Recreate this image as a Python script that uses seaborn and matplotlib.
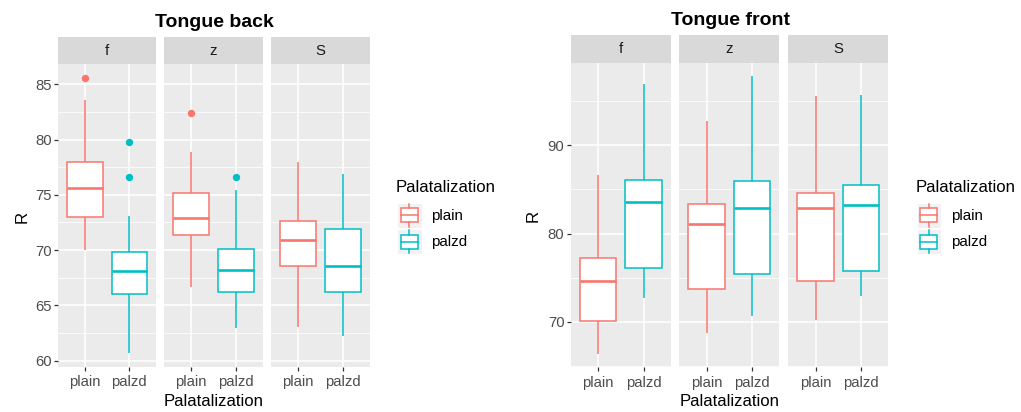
import numpy as np
import pandas as pd
import matplotlib
matplotlib.use("Agg")
import matplotlib.pyplot as plt
from matplotlib.ticker import FixedLocator
from matplotlib.patches import Rectangle
from matplotlib.lines import Line2D
from matplotlib.legend_handler import HandlerBase
import seaborn as sns

# ---------------- data ----------------
facets = ["f", "z", "S"]
levels = ["plain", "palzd"]
colors = ["#F8766D", "#00BFC4"]

# order within each list: f-plain, f-palzd, z-plain, z-palzd, S-plain, S-palzd
back_low = [70.0, 60.7, 66.7, 62.95, 63.05, 62.2]
back_q1 = [72.95, 66.0, 71.4, 66.2, 68.6, 66.2]
back_med = [75.6, 68.1, 72.9, 68.2, 70.9, 68.6]
back_q3 = [77.95, 69.85, 75.2, 70.1, 72.6, 71.9]
back_high = [83.55, 73.1, 78.9, 75.4, 78.0, 76.9]
back_out = [[85.55], [76.65, 79.8], [82.4], [76.6], [], []]

front_low = [66.35, 72.7, 68.7, 70.6, 70.2, 72.9]
front_q1 = [70.05, 76.1, 73.7, 75.4, 74.6, 75.8]
front_med = [74.6, 83.6, 81.05, 82.9, 82.9, 83.25]
front_q3 = [77.2, 86.1, 83.3, 85.95, 84.55, 85.55]
front_high = [86.6, 96.9, 92.8, 97.85, 95.65, 95.75]
front_out = [[], [], [], [], [], []]

back_major = [60, 65, 70, 75, 80, 85]
back_minor = [62.5, 67.5, 72.5, 77.5, 82.5]
front_major = [70, 80, 90]
front_minor = [65, 75, 85, 95]


def expand(lo, q1, med, q3, hi, outs):
    """Observations made only of the values read off the chart, repeated so
    that the box statistics seaborn computes equal the drawn ones."""
    return [lo] + [q1] * 10 + [med] * 10 + [q3] * 10 + [hi] + list(outs)


def make_frame(low, q1, med, q3, high, outs):
    rows = []
    for i, fac in enumerate(facets):
        for j, lev in enumerate(levels):
            k = 2 * i + j
            for v in expand(low[k], q1[k], med[k], q3[k], high[k], outs[k]):
                rows.append((fac, lev, v))
    return pd.DataFrame(rows, columns=["facet", "Palatalization", "R"])


back_df = make_frame(back_low, back_q1, back_med, back_q3, back_high, back_out)
front_df = make_frame(front_low, front_q1, front_med, front_q3, front_high, front_out)

# ---------------- style ----------------
plt.rcParams["font.family"] = ["Liberation Sans", "DejaVu Sans"]
W, H = 1021, 412
fig = plt.figure(figsize=(W / 100, H / 100), dpi=100)

TICK_FS = 10.7
LAB_FS = 12.1
PANEL_BG = "#EBEBEB"
STRIP_BG = "#D9D9D9"


def px_axes(x0, y0, x1, y1):
    return fig.add_axes([x0 / W, 1 - y1 / H, (x1 - x0) / W, (y1 - y0) / H])


def ftext(x, y, s, **kw):
    fig.text(x / W, 1 - y / H, s, **kw)


class BoxKeyHandler(HandlerBase):
    def create_artists(self, legend, orig_handle, xdescent, ydescent,
                       width, height, fontsize, trans):
        col = orig_handle.get_edgecolor()
        x0, y0 = -xdescent, -ydescent
        bg = Rectangle((x0, y0), width, height, facecolor="#F2F2F2",
                       edgecolor="white", lw=0.8, transform=trans)
        bx0, bw = x0 + 0.16 * width, 0.68 * width
        by0, bh = y0 + 0.22 * height, 0.56 * height
        box = Rectangle((bx0, by0), bw, bh, facecolor="white", edgecolor=col,
                        lw=1.1, transform=trans)
        cx = x0 + width / 2
        med = Line2D([bx0, bx0 + bw], [y0 + height / 2] * 2, color=col, lw=1.1,
                     transform=trans)
        w1 = Line2D([cx, cx], [y0 + 0.04 * height, by0], color=col, lw=1.1,
                    transform=trans)
        w2 = Line2D([cx, cx], [by0 + bh, y0 + 0.96 * height], color=col, lw=1.1,
                    transform=trans)
        return [bg, box, med, w1, w2]


def draw_panel(df, facet_x, strip_top, panel_top, panel_bottom, ylim,
               major, minor, title, title_xy, ylabel_xy, xlabel_xy,
               legend_xy):
    for i, fac in enumerate(facets):
        x0, x1 = facet_x[i]
        # strip
        sax = px_axes(x0, strip_top, x1, panel_top)
        sax.set_facecolor(STRIP_BG)
        sax.set_xticks([])
        sax.set_yticks([])
        for sp in sax.spines.values():
            sp.set_visible(False)
        sax.text(0.5, 0.5, fac, ha="center", va="center", fontsize=TICK_FS,
                 color="#1A1A1A", transform=sax.transAxes)

        ax = px_axes(x0, panel_top, x1, panel_bottom)
        ax.set_facecolor(PANEL_BG)
        sub = df[df["facet"] == fac]
        for j, lev in enumerate(levels):
            sns.boxplot(
                data=sub[sub["Palatalization"] == lev],
                x="Palatalization", y="R", order=levels,
                color="white", linecolor=colors[j], linewidth=1.1,
                width=0.8, showcaps=False,
                medianprops=dict(linewidth=1.9),
                flierprops=dict(marker="o", markerfacecolor=colors[j],
                                markeredgecolor=colors[j], markersize=4.3),
                ax=ax,
            )
        ax.set_xlim(-0.6, 1.6)
        ax.set_ylim(*ylim)
        ax.set_xlabel("")
        ax.set_ylabel("")
        for sp in ax.spines.values():
            sp.set_visible(False)
        ax.set_xticks([0, 1])
        ax.set_xticklabels(levels)
        ax.yaxis.set_major_locator(FixedLocator(major))
        ax.yaxis.set_minor_locator(FixedLocator(minor))
        ax.set_axisbelow(True)
        ax.grid(which="major", axis="both", color="white", lw=1.1)
        ax.grid(which="minor", axis="y", color="white", lw=0.55)
        ax.tick_params(which="minor", length=0)
        ax.tick_params(axis="x", length=3.2, width=0.9, color="#333333",
                       labelsize=TICK_FS, labelcolor="#4D4D4D", pad=3)
        if i == 0:
            ax.tick_params(axis="y", length=3.2, width=0.9, color="#333333",
                           labelsize=TICK_FS, labelcolor="#4D4D4D", pad=1.5)
        else:
            ax.tick_params(axis="y", length=0, labelleft=False)

    ftext(*title_xy, title, ha="center", va="baseline", fontsize=14,
          fontweight="bold", color="black")
    ftext(*ylabel_xy, "R", ha="center", va="center", rotation=90,
          fontsize=LAB_FS, color="black")
    ftext(*xlabel_xy, "Palatalization", ha="center", va="baseline",
          fontsize=LAB_FS, color="black")

    lx, ly = legend_xy
    ftext(lx - 1, ly - 10.5, "Palatalization", ha="left", va="baseline",
          fontsize=LAB_FS, color="black")
    handles = [Rectangle((0, 0), 1, 1, facecolor="white", edgecolor=c)
               for c in colors]
    fig.legend(handles, levels, loc="upper left",
               bbox_to_anchor=(lx / W, 1 - ly / H),
               bbox_transform=fig.transFigure, frameon=False,
               borderpad=0, borderaxespad=0, fontsize=10.9,
               handlelength=1.65, handleheight=2.16, labelspacing=0.08,
               handletextpad=0.6,
               handler_map={Rectangle: BoxKeyHandler()})


draw_panel(back_df,
           facet_x=[(58.3, 156.0), (164.3, 262.7), (271.0, 370.0)],
           strip_top=37.0, panel_top=64.3, panel_bottom=366.7,
           ylim=(59.46, 86.8), major=back_major, minor=back_minor,
           title="Tongue back", title_xy=(214.3, 26.7),
           ylabel_xy=(22, 217), xlabel_xy=(214, 406.5),
           legend_xy=(397, 203))

draw_panel(front_df,
           facet_x=[(571.0, 670.7), (679.3, 779.3), (788.3, 888.3)],
           strip_top=35.0, panel_top=62.7, panel_bottom=367.3,
           ylim=(64.83, 99.37), major=front_major, minor=front_minor,
           title="Tongue front", title_xy=(730.5, 25.0),
           ylabel_xy=(533, 216), xlabel_xy=(730, 406.5),
           legend_xy=(916.5, 203))

fig.savefig("out.png", dpi=100)
